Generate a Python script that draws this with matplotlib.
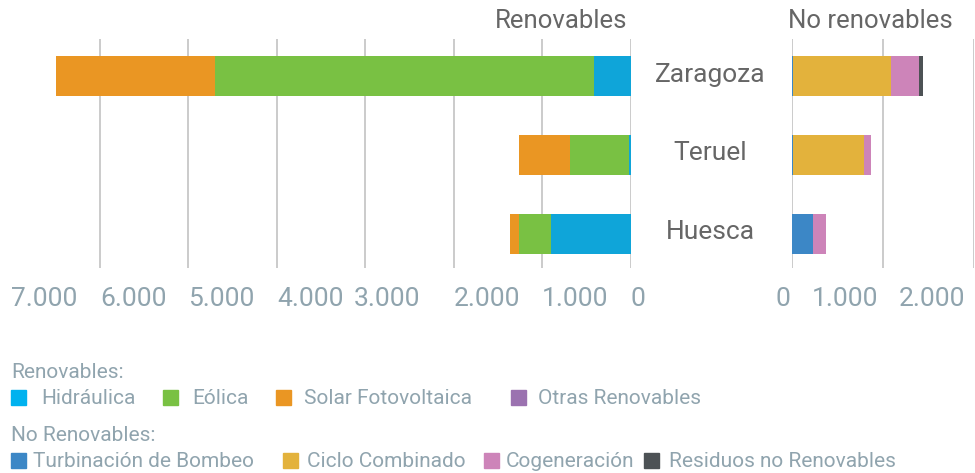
import matplotlib
matplotlib.use("Agg")
import matplotlib.pyplot as plt
from matplotlib.patches import Rectangle
from matplotlib.transforms import ScaledTranslation, blended_transform_factory

plt.rcParams['font.family'] = ['Roboto', 'DejaVu Sans']

provincias = ["Zaragoza", "Teruel", "Huesca"]

# Renovables (MW)
ren_series = ["Hidráulica", "Eólica", "Solar Fotovoltaica", "Otras Renovables"]
hidraulica = [415, 15, 905]
eolica = [4290, 675, 360]
solar = [1795, 570, 105]
otras_ren = [0, 0, 0]

# No renovables (MW)
nren_series = ["Turbinación de Bombeo", "Ciclo Combinado", "Cogeneración", "Residuos no Renovables"]
turbinacion = [5, 5, 225]
ciclo = [1085, 785, 0]
cogeneracion = [305, 70, 145]
residuos = [45, 0, 0]

left_ticks = [7000, 6000, 5000, 4000, 3000, 2000, 1000, 0]
left_labels = ["7.000", "6.000", "5.000", "4.000", "3.000", "2.000", "1.000", "0"]
right_ticks = [0, 1000, 2000]
right_labels = ["0", "1.000", "2.000"]

ren_colors = ["#0fa5d9", "#79c143", "#ea9623", "#9b72b0"]
ren_legend_colors = ["#00b2ef", "#79c143", "#ea9623", "#9b72b0"]
nren_colors = ["#3c87c6", "#e3b23c", "#cd84b9", "#4d5255"]

W, H = 975, 473
fig = plt.figure(figsize=(W / 100, H / 100), dpi=100)

def px_axes(x0, x1, ytop, ybot):
    return fig.add_axes([x0 / W, 1 - ybot / H, (x1 - x0) / W, (ybot - ytop) / H])

axL = px_axes(11.5, 630.7, 39, 268)
axR = px_axes(792.3, 974.3, 39, 268)

ypos = list(range(len(provincias)))
bh = 0.506
grid_c = "#c2c2c2"
tick_c = "#90a4ae"
label_c = "#666666"

base = [0] * 3
for vals, col in zip([hidraulica, eolica, solar, otras_ren], ren_colors):
    axL.barh(ypos, vals, left=base, height=bh, color=col, zorder=3)
    base = [b + v for b, v in zip(base, vals)]
axL.set_xlim(7000, 0)

base = [0] * 3
for vals, col in zip([turbinacion, ciclo, cogeneracion, residuos], nren_colors):
    axR.barh(ypos, vals, left=base, height=bh, color=col, zorder=3)
    base = [b + v for b, v in zip(base, vals)]
axR.set_xlim(0, 2000)

for ax in (axL, axR):
    ax.set_ylim(2.43, -0.47)
    ax.set_yticks([])
    for s in ax.spines.values():
        s.set_visible(False)
    ax.tick_params(axis='x', length=0, pad=13.5, labelsize=19, labelcolor=tick_c)

axL.set_xticks(left_ticks)
axL.set_xticklabels(left_labels)
for t in left_ticks:
    axL.axvline(t, color=grid_c, lw=1.2, zorder=1)
for lab, t in zip(axL.get_xticklabels(), left_ticks):
    lab.set_horizontalalignment('left')
    dx = -12 / 100 if t == 3000 else 0
    lab.set_transform(lab.get_transform() + ScaledTranslation(dx, 0, fig.dpi_scale_trans))

axR.set_xticks(right_ticks)
axR.set_xticklabels(right_labels)
for t in right_ticks:
    axR.axvline(t, color=grid_c, lw=1.2, zorder=1)
offs = {0: -2, 1000: -5, 2000: -9}
for lab, t in zip(axR.get_xticklabels(), right_ticks):
    lab.set_horizontalalignment('right')
    lab.set_transform(lab.get_transform() + ScaledTranslation(offs[t] / 100, 0, fig.dpi_scale_trans))

# category labels
tr = blended_transform_factory(fig.transFigure, axR.transData)
for i, p in enumerate(provincias):
    axR.text(710 / W, i - 0.02, p, transform=tr, ha='center', va='center', fontsize=19, color=label_c)

# titles
fig.text(627 / W, 1 - 21 / H, "Renovables", ha='right', va='center', fontsize=18.5, color=label_c)
fig.text(953 / W, 1 - 21 / H, "No renovables", ha='right', va='center', fontsize=18.5, color=label_c)

# legend
leg_c = "#90a4ae"
fs = 15
fig.text(11 / W, 1 - 372 / H, "Renovables:", ha='left', va='center', fontsize=fs, color=leg_c)
fig.text(11 / W, 1 - 435 / H, "No Renovables:", ha='left', va='center', fontsize=fs, color=leg_c)

def legend_item(sq_x, text_x, yc, col, label):
    fig.patches.append(Rectangle((sq_x / W, 1 - (yc + 7.5) / H), 15 / W, 15 / H,
                                 transform=fig.transFigure, color=col, figure=fig))
    fig.text(text_x / W, 1 - (yc + 1.5) / H, label, ha='left', va='center', fontsize=fs, color=leg_c)

row1 = [(11, 41), (163, 192), (276, 304), (511, 538)]
for (sx, tx), col, lab in zip(row1, ren_legend_colors, ren_series):
    legend_item(sx, tx, 397, col, lab)
row2 = [(11, 33), (283, 307), (484, 506), (644, 669)]
for (sx, tx), col, lab in zip(row2, nren_colors, nren_series):
    legend_item(sx, tx, 460, col, lab)

fig.savefig("out.png", dpi=100)
